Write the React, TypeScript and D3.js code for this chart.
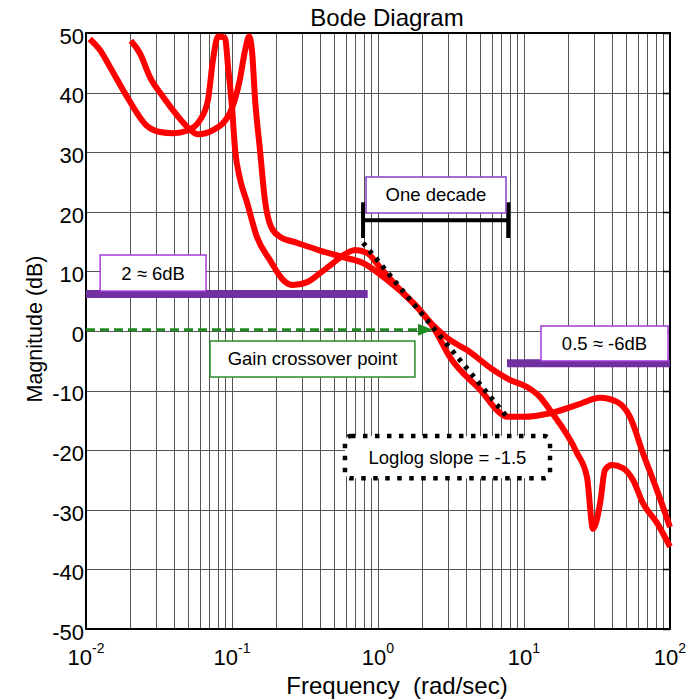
import React, { useEffect, useRef } from 'react'
import * as d3 from 'd3'

// two magnitude responses (rad/sec, dB)
const curve1Freq = [0.0106, 0.0125, 0.0146, 0.0191, 0.0262, 0.0321, 0.0394, 0.0492, 0.0604, 0.0685, 0.0741, 0.0802, 0.0895, 0.094, 0.1, 0.105, 0.1135, 0.127, 0.148, 0.182, 0.223, 0.262, 0.327, 0.401, 0.492, 0.614, 0.695, 0.84, 1.03, 1.42, 1.94, 2.38, 3.11, 5.24, 6.53, 7.65, 9.85, 15.1, 23.1, 33.2, 43.4, 53.2, 65.3, 81.4, 100]
const curve1Mag = [49.0, 47.1, 44.3, 39.3, 34.4, 33.4, 33.2, 33.6, 35.4, 38.8, 45.5, 49.4, 49.2, 44.3, 37.6, 30.4, 25.5, 21.5, 15.8, 11.9, 8.6, 7.7, 8.2, 9.7, 11.4, 13.1, 13.6, 13.1, 10.7, 6.9, 3.5, 0.7, -4.4, -10.4, -13.3, -14.4, -14.4, -13.8, -12.4, -11.2, -11.9, -14.4, -20.5, -26.7, -32.9]

const curve2Freq = [0.0203, 0.0234, 0.0274, 0.0337, 0.042, 0.05, 0.0585, 0.0741, 0.0968, 0.113, 0.123, 0.131, 0.137, 0.144, 0.156, 0.168, 0.185, 0.213, 0.279, 0.401, 0.575, 0.788, 1.15, 1.74, 2.38, 3.11, 4.07, 6.14, 8.0, 10.5, 12.9, 15.1, 23.1, 27, 29.7, 33.2, 35.9, 40.1, 47.6, 55.8, 65.3, 81.4, 100]
const curve2Mag = [48.7, 46.6, 42.6, 39.3, 36.2, 34.1, 33.0, 33.7, 36.6, 42.1, 47.1, 49.4, 47.1, 38.8, 30.0, 22.0, 17.5, 15.8, 14.8, 13.5, 12.4, 11.4, 8.6, 4.7, 1.0, -1.5, -3.2, -6.5, -8.2, -9.4, -11.1, -13.3, -20.5, -24.5, -33.2, -28.9, -23.3, -22.5, -23.0, -25.0, -28.9, -32.2, -36.2]

const yTicks = [-50, -40, -30, -20, -10, 0, 10, 20, 30, 40, 50]
const xDecades = [0.01, 0.1, 1, 10, 100]
const xTickExp = ['-2', '-1', '0', '1', '2']

// annotations in data units
const sixDbBar = [0.01, 0.85, 6.2]
const minusSixDbBar = [7.65, 100, -5.4]
const crossover = [0.01, 2.38, 0.2]
const decadeBar = [0.79, 7.8, 18.6, 21.6, 15.6]
const slopeLine = [0.79, 14.8, 7.7, -14.5]
const labelBoxes = [
  { text: '2 \u2248 6dB', f: [0.0125, 0.0664], db: [12.75, 6.7], color: '#a23bd6', dotted: false },
  { text: 'Gain crossover point', f: [0.0707, 1.79], db: [-1.68, -7.72], color: '#2b8a2b', dotted: false },
  { text: 'One decade', f: [0.828, 7.53], db: [25.84, 19.8], color: '#8a3fc0', dotted: false },
  { text: '0.5 \u2248 -6dB', f: [13.07, 96.9], db: [0.84, -5.03], color: '#a23bd6', dotted: false },
  { text: 'Loglog slope = -1.5', f: [0.594, 15.07], db: [-17.6, -24.7], color: '#000', dotted: true },
]

const FONT = '"Liberation Sans", Arial, Helvetica, sans-serif'

export default function App() {
  const ref = useRef<SVGSVGElement>(null)

  useEffect(() => {
    const svg = d3.select(ref.current)
    svg.selectAll('*').remove()

    const left = 86, right = 670, top = 33, bottom = 629

    const x = d3.scaleLog().domain([0.01, 100]).range([left, right])
    const y = d3.scaleLinear().domain([-50, 50]).range([bottom, top])

    svg.append('rect').attr('width', 698).attr('height', 700).attr('fill', '#fff')

    // grid
    const minor: number[] = []
    xDecades.slice(0, 4).forEach(d => { for (let k = 1; k < 10; k++) minor.push(d * k) })
    minor.push(100)

    svg.append('g').selectAll('line').data(minor).enter().append('line')
      .attr('x1', d => Math.round(x(d)) + 0.5).attr('x2', d => Math.round(x(d)) + 0.5)
      .attr('y1', top).attr('y2', bottom)
      .attr('stroke', '#555').attr('stroke-width', 1)

    svg.append('g').selectAll('line').data(yTicks).enter().append('line')
      .attr('x1', left).attr('x2', right)
      .attr('y1', d => Math.round(y(d)) + 0.5).attr('y2', d => Math.round(y(d)) + 0.5)
      .attr('stroke', '#555').attr('stroke-width', 1)

    // right-side ticks
    svg.append('g').selectAll('line').data(yTicks).enter().append('line')
      .attr('x1', right - 7).attr('x2', right)
      .attr('y1', d => Math.round(y(d)) + 0.5).attr('y2', d => Math.round(y(d)) + 0.5)
      .attr('stroke', '#000').attr('stroke-width', 1.5)

    // axes box
    svg.append('rect')
      .attr('x', left).attr('y', top).attr('width', right - left).attr('height', bottom - top)
      .attr('fill', 'none').attr('stroke', '#000').attr('stroke-width', 2)

    // tick labels
    svg.append('g').selectAll('text').data(yTicks).enter().append('text')
      .attr('x', left - 2).attr('y', d => y(d) + 3)
      .attr('dy', '0.35em').attr('text-anchor', 'end')
      .attr('font-family', FONT).attr('font-size', 22)
      .text(d => String(d))

    const xl = svg.append('g').selectAll('text').data(xDecades).enter().append('text')
      .attr('x', d => x(d)).attr('y', 665)
      .attr('text-anchor', 'middle')
      .attr('font-family', FONT).attr('font-size', 22)
    xl.append('tspan').text('10')
    xl.append('tspan').attr('dy', -12).attr('font-size', 14).text((d, i) => xTickExp[i])

    // title and axis labels
    svg.append('text').attr('x', 387).attr('y', 26).attr('text-anchor', 'middle')
      .attr('font-family', FONT).attr('font-size', 24).text('Bode Diagram')
    svg.append('text').attr('x', 397).attr('y', 694).attr('text-anchor', 'middle')
      .attr('font-family', FONT).attr('font-size', 24)
      .style('white-space', 'pre')
      .text('Frequency  (rad/sec)')
    svg.append('text').attr('transform', 'translate(42,329) rotate(-90)').attr('text-anchor', 'middle')
      .attr('font-family', FONT).attr('font-size', 21.5).text('Magnitude (dB)')

    // magnitude curves
    const line = d3.line<[number, number]>()
      .x(d => x(d[0])).y(d => y(d[1]))
      .curve(d3.curveMonotoneX)

    const c1 = curve1Freq.map((f, i) => [f, curve1Mag[i]] as [number, number])
    const c2 = curve2Freq.map((f, i) => [f, curve2Mag[i]] as [number, number])
    ;[c1, c2].forEach(c => {
      svg.append('path').attr('d', line(c))
        .attr('fill', 'none').attr('stroke', '#ff0000')
        .attr('stroke-width', 6).attr('stroke-linejoin', 'round')
    })

    // purple level bars
    ;[sixDbBar, minusSixDbBar].forEach(b => {
      svg.append('line')
        .attr('x1', x(b[0])).attr('x2', x(b[1]))
        .attr('y1', y(b[2])).attr('y2', y(b[2]))
        .attr('stroke', '#7030a0').attr('stroke-width', 8)
    })

    // gain crossover arrow
    const tipX = x(crossover[1]), arrowY = y(crossover[2])
    svg.append('line')
      .attr('x1', x(crossover[0])).attr('x2', tipX - 14)
      .attr('y1', arrowY).attr('y2', arrowY)
      .attr('stroke', '#1f8a1f').attr('stroke-width', 3)
      .attr('stroke-dasharray', '9 5')
    svg.append('path')
      .attr('d', `M${tipX},${arrowY} L${tipX - 15},${arrowY - 6} L${tipX - 15},${arrowY + 6} Z`)
      .attr('fill', '#1f8a1f')

    // one decade bracket
    svg.append('line')
      .attr('x1', x(decadeBar[0])).attr('x2', x(decadeBar[1]))
      .attr('y1', y(decadeBar[2])).attr('y2', y(decadeBar[2]))
      .attr('stroke', '#000').attr('stroke-width', 4)
    ;[decadeBar[0], decadeBar[1]].forEach(f => {
      svg.append('line')
        .attr('x1', x(f)).attr('x2', x(f))
        .attr('y1', y(decadeBar[3])).attr('y2', y(decadeBar[4]))
        .attr('stroke', '#000').attr('stroke-width', 4)
    })

    // slope guide
    svg.append('line')
      .attr('x1', x(slopeLine[0])).attr('y1', y(slopeLine[1]))
      .attr('x2', x(slopeLine[2])).attr('y2', y(slopeLine[3]))
      .attr('stroke', '#000').attr('stroke-width', 5)
      .attr('stroke-dasharray', '4 6')

    // label boxes
    labelBoxes.forEach(b => {
      const x0 = x(b.f[0]), x1 = x(b.f[1]), y0 = y(b.db[0]), y1 = y(b.db[1])
      svg.append('rect')
        .attr('x', x0).attr('y', y0).attr('width', x1 - x0).attr('height', y1 - y0)
        .attr('rx', b.dotted ? 6 : 0)
        .attr('fill', '#fff').attr('stroke', b.color)
        .attr('stroke-width', b.dotted ? 4.5 : 1.5)
        .attr('stroke-dasharray', b.dotted ? '4.5 7.5' : null)
      svg.append('text')
        .attr('x', (x0 + x1) / 2).attr('y', (y0 + y1) / 2)
        .attr('dy', '0.35em').attr('text-anchor', 'middle')
        .attr('font-family', FONT).attr('font-size', 18.5)
        .text(b.text)
    })
  }, [])

  return (
    <svg ref={ref} width={698} height={700}
      style={{ position: 'absolute', left: 0, top: 0, display: 'block' }} />
  )
}
